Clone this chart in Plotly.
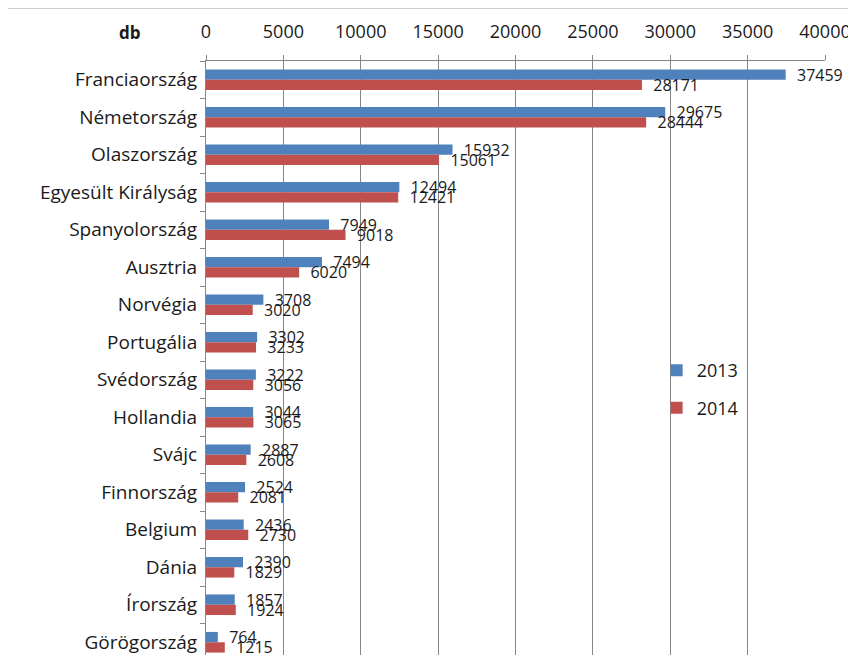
import plotly.graph_objects as go

countries = [
    "Franciaország", "Németország", "Olaszország", "Egyesült Királyság",
    "Spanyolország", "Ausztria", "Norvégia", "Portugália", "Svédország",
    "Hollandia", "Svájc", "Finnország", "Belgium", "Dánia", "Írország",
    "Görögország",
]
values_2013 = [37459, 29675, 15932, 12494, 7949, 7494, 3708, 3302, 3222,
               3044, 2887, 2524, 2436, 2390, 1857, 764]
values_2014 = [28171, 28444, 15061, 12421, 9018, 6020, 3020, 3233, 3056,
               3065, 2608, 2081, 2730, 1829, 1924, 1215]
x_ticks = [0, 5000, 10000, 15000, 20000, 25000, 30000, 35000, 40000]

FONT = "Open Sans, Calibri, sans-serif"
BLUE = "#4F81BD"
RED = "#C0504D"
GRID = "#868686"

fig = go.Figure()
for name, vals, col, grp in [("2013", values_2013, BLUE, "a"),
                             ("2014", values_2014, RED, "b")]:
    fig.add_trace(go.Bar(
        name=name,
        y=countries,
        x=vals,
        orientation="h",
        marker=dict(color=col, line=dict(width=0)),
        texttemplate="\u00a0\u00a0%{x:.0f}",
        textposition="outside",
        textfont=dict(family=FONT, size=16, color="#1a1a1a"),
        constraintext="none",
        cliponaxis=False,
        legendgroup=grp,
    ))

# page has an 8px body margin, so the figure is drawn 8px smaller
fig.update_layout(
    width=848,
    height=647,
    margin=dict(l=198, r=31, t=53, b=0),
    barmode="group",
    bargap=0.45,
    bargroupgap=0,
    plot_bgcolor="white",
    paper_bgcolor="white",
    font=dict(family=FONT, color="#1a1a1a"),
    legend=dict(
        x=0.728, y=0.51, xanchor="left", yanchor="top",
        font=dict(size=18),
        traceorder="grouped",
        tracegroupgap=11,
        itemwidth=30,
        bgcolor="rgba(0,0,0,0)",
    ),
    xaxis=dict(
        side="top",
        range=[0, 40000],
        tickvals=x_ticks,
        ticktext=[str(v) for v in x_ticks],
        tickfont=dict(size=18),
        showgrid=True,
        gridcolor=GRID,
        gridwidth=1,
        zeroline=False,
        showline=True,
        linecolor=GRID,
        ticks="outside",
        ticklen=5,
        tickcolor=GRID,
        ticklabelstandoff=10,
        automargin=False,
    ),
    yaxis=dict(
        range=[15.34, -0.5],
        tickfont=dict(size=19),
        showline=True,
        linecolor=GRID,
        ticks="outside",
        tickson="boundaries",
        ticklen=5,
        tickcolor=GRID,
        showgrid=False,
        ticklabelstandoff=4,
        automargin=False,
    ),
    annotations=[dict(
        text="<b>db</b>", xref="paper", yref="paper",
        x=-0.123, y=1.048, xanchor="center", yanchor="middle",
        showarrow=False, font=dict(size=17, family=FONT),
    )],
    shapes=[dict(
        type="rect", xref="paper", yref="paper",
        x0=-0.322, x1=1.039, y0=-0.1, y1=1.089,
        line=dict(color="#D0D0D0", width=1.5),
        layer="below",
    )],
)

fig.write_html("out.html")
